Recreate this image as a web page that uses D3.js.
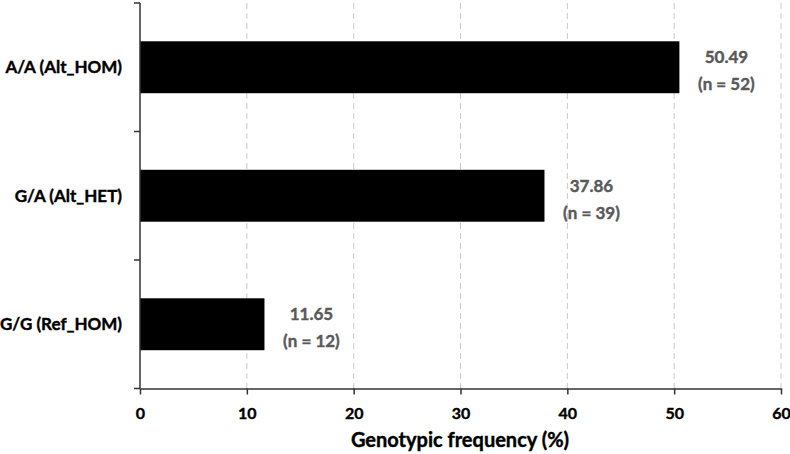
<!DOCTYPE html>
<html>
<head>
<meta charset="utf-8">
<script src="https://cdn.jsdelivr.net/npm/d3@7"></script>
<style>
  body { margin: 0; background: #fff; }
  text { font-family: Lato, "Open Sans", sans-serif; font-weight: bold; stroke-width: 0.4px; }
</style>
</head>
<body>
<div id="chart"></div>
<script>
// data
const genotypes = ["A/A (Alt_HOM)", "G/A (Alt_HET)", "G/G (Ref_HOM)"];
const freqs = [50.49, 37.86, 11.65];
const counts = [52, 39, 12];
const xTicks = [0, 10, 20, 30, 40, 50, 60];

let w = 790, h = 454;
let pLeft = 140, pRight = 781, pTop = 3, pBottom = 388.5;

let svg = d3.select("#chart").append("svg")
  .attr("width", w).attr("height", h);

let x = d3.scaleLinear().domain([0, 60]).range([pLeft, pRight]);
let y = d3.scaleBand().domain(genotypes).range([pTop, pBottom])
  .paddingInner(0.596).paddingOuter(0.298);
let step = y.step();

// gridlines
svg.append("g").selectAll("line")
  .data(xTicks.slice(1))
  .enter().append("line")
  .attr("x1", d => x(d)).attr("x2", d => x(d))
  .attr("y1", pTop).attr("y2", pBottom)
  .attr("stroke", "#c9c9c9").attr("stroke-width", 1)
  .attr("stroke-dasharray", "6,4");

// bars
svg.append("g").selectAll("rect")
  .data(genotypes)
  .enter().append("rect")
  .attr("x", x(0))
  .attr("y", d => y(d))
  .attr("width", (d, i) => x(freqs[i]) - x(0))
  .attr("height", y.bandwidth())
  .attr("fill", "#000");

// value labels
let lab = svg.append("g").selectAll("text")
  .data(genotypes)
  .enter().append("text")
  .attr("text-anchor", "middle")
  .attr("fill", "#595959")
  .attr("stroke", "#595959")
  .style("font-size", "17px");
lab.append("tspan")
  .attr("x", (d, i) => x(freqs[i]) + 47)
  .attr("y", d => y(d) + y.bandwidth() / 2 - 4)
  .text((d, i) => freqs[i].toFixed(2));
lab.append("tspan")
  .attr("x", (d, i) => x(freqs[i]) + 47)
  .attr("y", d => y(d) + y.bandwidth() / 2 + 23)
  .text((d, i) => "(n = " + counts[i] + ")");

// x axis
let xAxis = d3.axisBottom(x).tickValues(xTicks).tickSize(6).tickSizeOuter(0);
let gx = svg.append("g").attr("transform", "translate(0," + pBottom + ")").call(xAxis);
gx.select(".domain").attr("stroke", "#333").attr("stroke-width", 1.5);
gx.selectAll(".tick line").attr("stroke", "#333").attr("stroke-width", 1.5);
gx.selectAll(".tick text").attr("fill", "#000").attr("stroke", "#000")
  .style("font-size", "16px")
  .style("font-family", "Lato, sans-serif").style("font-weight", "bold")
  .attr("y", 30.5).attr("dy", 0);

// y axis: ticks sit between categories
let yEdges = d3.range(genotypes.length + 1).map(i => pTop + i * step);
svg.append("line")
  .attr("x1", pLeft).attr("x2", pLeft).attr("y1", pTop).attr("y2", pBottom)
  .attr("stroke", "#333").attr("stroke-width", 1.5);
svg.append("g").selectAll("line")
  .data(yEdges)
  .enter().append("line")
  .attr("x1", pLeft - 6).attr("x2", pLeft)
  .attr("y1", d => d).attr("y2", d => d)
  .attr("stroke", "#333").attr("stroke-width", 1.5);

svg.append("g").selectAll("text")
  .data(genotypes)
  .enter().append("text")
  .attr("x", pLeft - 18)
  .attr("y", d => y(d) + y.bandwidth() / 2)
  .attr("dy", "0.35em")
  .attr("text-anchor", "end")
  .attr("fill", "#000")
  .attr("stroke", "#000")
  .style("font-size", "17px")
  .text(d => d);

// axis title
svg.append("text")
  .attr("x", 460)
  .attr("y", 447)
  .attr("text-anchor", "middle")
  .attr("fill", "#000")
  .attr("stroke", "#000")
  .style("font-size", "20px")
  .text("Genotypic frequency (%)");
</script>
</body>
</html>
